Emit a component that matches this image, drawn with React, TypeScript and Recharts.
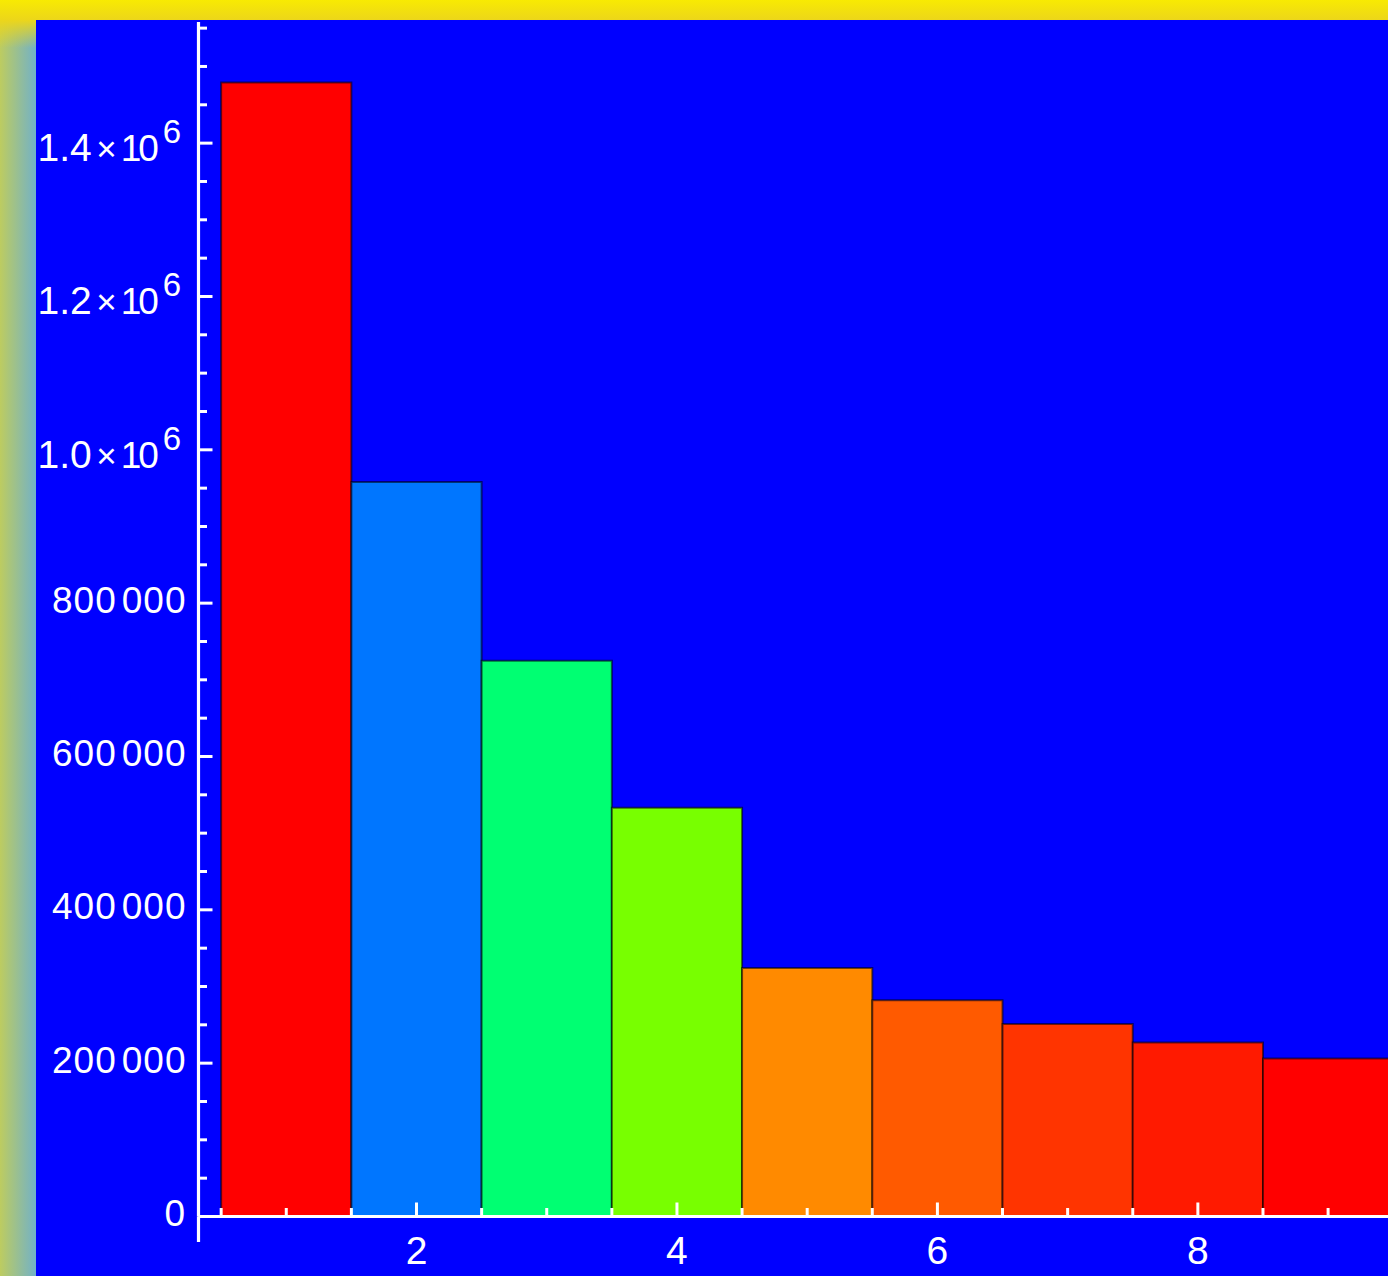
import { BarChart, Bar, XAxis, YAxis, Cell, ReferenceLine } from 'recharts';

// rank 1..9 and the counts
const ranks = [1, 2, 3, 4, 5, 6, 7, 8, 9];
const counts = [1479000, 958000, 725000, 533000, 324000, 282000, 251000, 227000, 206000];
const barColors = ['#ff0000', '#0076ff', '#00ff72', '#78ff00', '#ff8a00', '#ff5a00', '#ff3400', '#ff1a00', '#ff0000'];

const xMajorTicks = [2, 4, 6, 8];
const xMinorTicks = [0.5, 1, 1.5, 2.5, 3, 3.5, 4.5, 5, 5.5, 6.5, 7, 7.5, 8.5, 9];
const yMajorTicks = [0, 200000, 400000, 600000, 800000, 1000000, 1200000, 1400000];
const yMinorTicks = [
  50000, 100000, 150000, 250000, 300000, 350000, 450000, 500000, 550000,
  650000, 700000, 750000, 850000, 900000, 950000, 1050000, 1100000, 1150000,
  1250000, 1300000, 1350000, 1450000, 1500000, 1550000,
];

const rows = ranks.map((r, i) => ({ rank: r, count: counts[i] }));
const xTicks = [...xMinorTicks, ...xMajorTicks].sort((a, b) => a - b);
const yTicks = [...yMinorTicks, ...yMajorTicks].sort((a, b) => a - b);

const W = 1352;
const H = 1256;
const X_MIN = 0.326;
const X_MAX = 9.46;
const Y_MAX = 1558000;

const YTick = ({ x, y, payload }: any) => {
  const v = payload.value;
  if (!yMajorTicks.includes(v)) {
    return <line x1={x} x2={x + 8.5} y1={y} y2={y} stroke="#fff" strokeWidth={3} />;
  }
  let label;
  if (v >= 1000000) {
    label = (
      <text x={x - 161} y={y + 18} textAnchor="start" fill="#fff" fontSize={39}>
        <tspan>{(v / 1000000).toFixed(1)}</tspan>
        <tspan dx={4.5} fontSize={35}>×</tspan>
        <tspan dx={4} fontSize={37} letterSpacing={-3}>10</tspan>
        <tspan dx={7} dy={-18} fontSize={33}>6</tspan>
      </text>
    );
  } else if (v === 0) {
    label = (
      <text x={x - 13.5} y={y + 9.5} textAnchor="end" fill="#fff" fontSize={37}>
        {v}
      </text>
    );
  } else {
    const s = String(v);
    label = (
      <text x={x - 12} y={y + 9.5} textAnchor="end" fill="#fff" fontSize={37} letterSpacing={1}>
        <tspan>{s.slice(0, -3)}</tspan>
        <tspan dx={5}>{s.slice(-3)}</tspan>
      </text>
    );
  }
  return (
    <g>
      <line x1={x} x2={x + 14} y1={y} y2={y} stroke="#fff" strokeWidth={3} />
      {label}
    </g>
  );
};

const XTick = ({ x, y, payload }: any) => {
  const v = payload.value;
  if (!xMajorTicks.includes(v)) {
    return <line x1={x} x2={x} y1={y} y2={y - 8.5} stroke="#fff" strokeWidth={3} />;
  }
  return (
    <g>
      <line x1={x} x2={x} y1={y} y2={y - 14} stroke="#fff" strokeWidth={3} />
      <text x={x} y={y + 47.5} textAnchor="middle" fill="#fff" fontSize={39}>
        {v}
      </text>
    </g>
  );
};

export default function App() {
  return (
    <div
      style={{
        position: 'absolute',
        left: 0,
        top: 0,
        width: 1388,
        height: 1276,
        overflow: 'hidden',
        background:
          'linear-gradient(to bottom, rgba(248,234,2,1) 0px, rgba(236,214,26,1) 20px, rgba(236,216,26,0) 48px), linear-gradient(to right, #bdcc60 0px, #72b1c8 36px)',
        fontFamily: '"Liberation Sans", Arial, sans-serif',
      }}
    >
      <div style={{ position: 'absolute', left: 36, top: 20, width: W, height: H, background: '#0000ff' }}>
        <BarChart width={W} height={H} data={rows} margin={{ top: 2, right: 0, bottom: 58.5, left: 161.5 }}>
          <Bar
            dataKey="count"
            barSize={130.22}
            isAnimationActive={false}
            stroke="#000"
            strokeOpacity={0.55}
            strokeWidth={2}
          >
            {rows.map((r, i) => (
              <Cell key={r.rank} fill={barColors[i]} />
            ))}
          </Bar>
          <XAxis
            type="number"
            dataKey="rank"
            domain={[X_MIN, X_MAX]}
            allowDataOverflow
            ticks={xTicks}
            interval={0}
            height={1}
            tickSize={0}
            tickMargin={0}
            tickLine={false}
            axisLine={{ stroke: '#fff', strokeWidth: 3.2 }}
            tick={(p: any) => <XTick {...p} />}
          />
          <YAxis
            type="number"
            domain={[0, Y_MAX]}
            allowDataOverflow
            ticks={yTicks}
            interval={0}
            width={1}
            tickSize={0}
            tickMargin={0}
            tickLine={false}
            axisLine={{ stroke: '#fff', strokeWidth: 3.2 }}
            tick={(p: any) => <YTick {...p} />}
          />
          <ReferenceLine
            segment={[
              { x: X_MIN, y: -33300 },
              { x: X_MIN, y: 0 },
            ]}
            stroke="#fff"
            strokeWidth={3.2}
            ifOverflow="visible"
          />
        </BarChart>
      </div>
    </div>
  );
}
